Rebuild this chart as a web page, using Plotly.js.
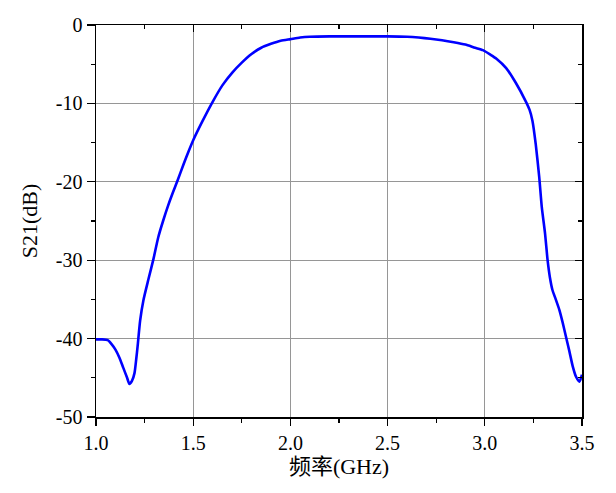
<!DOCTYPE html>
<html>
<head>
<meta charset="utf-8">
<script src="https://cdn.plot.ly/plotly-3.0.1.min.js"></script>
<style>html,body{margin:0;padding:0;background:#fff;}#chart{width:616px;height:493px;}</style>
</head>
<body>
<div id="chart"></div>
<script>
// Frequency (GHz)
var freq = [1.00, 1.03, 1.06, 1.08, 1.10, 1.12, 1.14, 1.16, 1.172, 1.185, 1.198, 1.207, 1.214, 1.227, 1.244, 1.27, 1.296, 1.32, 1.345, 1.37, 1.395, 1.42, 1.45, 1.475, 1.50, 1.547, 1.60, 1.65, 1.70, 1.75, 1.80, 1.85, 1.90, 1.95, 2.00, 2.05, 2.10, 2.20, 2.30, 2.40, 2.50, 2.60, 2.66, 2.72, 2.78, 2.84, 2.90, 2.95, 2.99, 3.03, 3.06, 3.11, 3.16, 3.21, 3.23, 3.245, 3.262, 3.28, 3.293, 3.31, 3.323, 3.335, 3.348, 3.365, 3.383, 3.40, 3.417, 3.435, 3.452, 3.47, 3.487, 3.50];
// S21 (dB)
var s21 = [-40.1, -40.1, -40.2, -40.7, -41.4, -42.4, -43.7, -45.0, -45.8, -45.4, -44.4, -42.6, -41.0, -37.7, -35.1, -32.4, -29.8, -27.1, -25.0, -23.1, -21.4, -19.8, -17.8, -16.2, -14.7, -12.3, -9.8, -7.7, -6.1, -4.8, -3.7, -2.9, -2.4, -2.0, -1.8, -1.6, -1.5, -1.45, -1.45, -1.45, -1.45, -1.5, -1.6, -1.75, -1.95, -2.2, -2.5, -2.9, -3.2, -3.8, -4.3, -5.5, -7.4, -9.7, -10.8, -12.2, -15.2, -19.4, -23.2, -26.6, -30.0, -32.2, -33.8, -35.0, -36.3, -37.9, -39.7, -41.6, -43.5, -44.9, -45.5, -44.6];

var xTickVals = [1.0, 1.5, 2.0, 2.5, 3.0, 3.5];
var xTickText = ['1.0', '1.5', '2.0', '2.5', '3.0', '3.5'];
var yTickVals = [0, -10, -20, -30, -40, -50];
var yTickText = ['0', '-10', '-20', '-30', '-40', '-50'];
var xTitle = '频率(GHz)';
var yTitle = 'S21(dB)';

var fontFam = '"Liberation Serif", "Times New Roman", "Noto Sans CJK SC", serif';

var traces = [
  {x: freq, y: s21, type: 'scatter', mode: 'lines', line: {color: '#0000ff', width: 2.6, shape: 'spline', smoothing: 0.6}, hoverinfo: 'skip'},
  {x: freq, y: s21, type: 'scatter', mode: 'lines', xaxis: 'x2', yaxis: 'y2', line: {color: 'rgba(0,0,0,0)', width: 0}, hoverinfo: 'skip'}
];

var common = {linecolor: '#000', linewidth: 1.5, tickcolor: '#000', tickwidth: 1.3, zeroline: false, fixedrange: true};

var layout = {
  width: 616, height: 493,
  margin: {l: 96, r: 34, t: 25, b: 76},
  paper_bgcolor: '#fff', plot_bgcolor: '#fff',
  showlegend: false,
  font: {family: fontFam, size: 20, color: '#000'},
  xaxis: Object.assign({}, common, {
    range: [1.0, 3.5], tickmode: 'array', tickvals: xTickVals, ticktext: xTickText,
    ticks: 'outside', ticklen: 7, showline: true, showgrid: true, gridcolor: '#969696', gridwidth: 1.3,
    minor: {tick0: 1.0, dtick: 0.25, ticks: 'outside', ticklen: 4, tickcolor: '#000', tickwidth: 1.3, showgrid: false},
    tickfont: {family: fontFam, size: 20, color: '#000'},
    title: {text: xTitle, font: {family: fontFam, size: 22, color: '#000'}, standoff: 6}
  }),
  yaxis: Object.assign({}, common, {
    range: [-50, 0], tickmode: 'array', tickvals: yTickVals, ticktext: yTickText,
    ticks: 'outside', ticklen: 8, showline: true, showgrid: true, gridcolor: '#969696', gridwidth: 1.3,
    minor: {tick0: 0, dtick: 5, ticks: 'outside', ticklen: 4, tickcolor: '#000', tickwidth: 1.3, showgrid: false},
    tickfont: {family: fontFam, size: 20, color: '#000'},
    title: {text: yTitle, font: {family: fontFam, size: 22, color: '#000'}, standoff: 12}
  }),
  xaxis2: Object.assign({}, common, {
    overlaying: 'x', side: 'top', anchor: 'y2', range: [1.0, 3.5], tickmode: 'array', tickvals: xTickVals,
    showticklabels: false, ticks: 'inside', ticklen: 7, showline: true, showgrid: false,
    minor: {tick0: 1.0, dtick: 0.25, ticks: 'inside', ticklen: 4, tickcolor: '#000', tickwidth: 1.3, showgrid: false}
  }),
  yaxis2: Object.assign({}, common, {
    overlaying: 'y', side: 'right', anchor: 'x2', range: [-50, 0], tickmode: 'array', tickvals: yTickVals,
    showticklabels: false, ticks: 'inside', ticklen: 7, showline: true, showgrid: false,
    minor: {tick0: 0, dtick: 5, ticks: 'inside', ticklen: 4, tickcolor: '#000', tickwidth: 1.3, showgrid: false}
  })
};

Plotly.newPlot('chart', traces, layout, {staticPlot: true, displayModeBar: false});
</script>
</body>
</html>
